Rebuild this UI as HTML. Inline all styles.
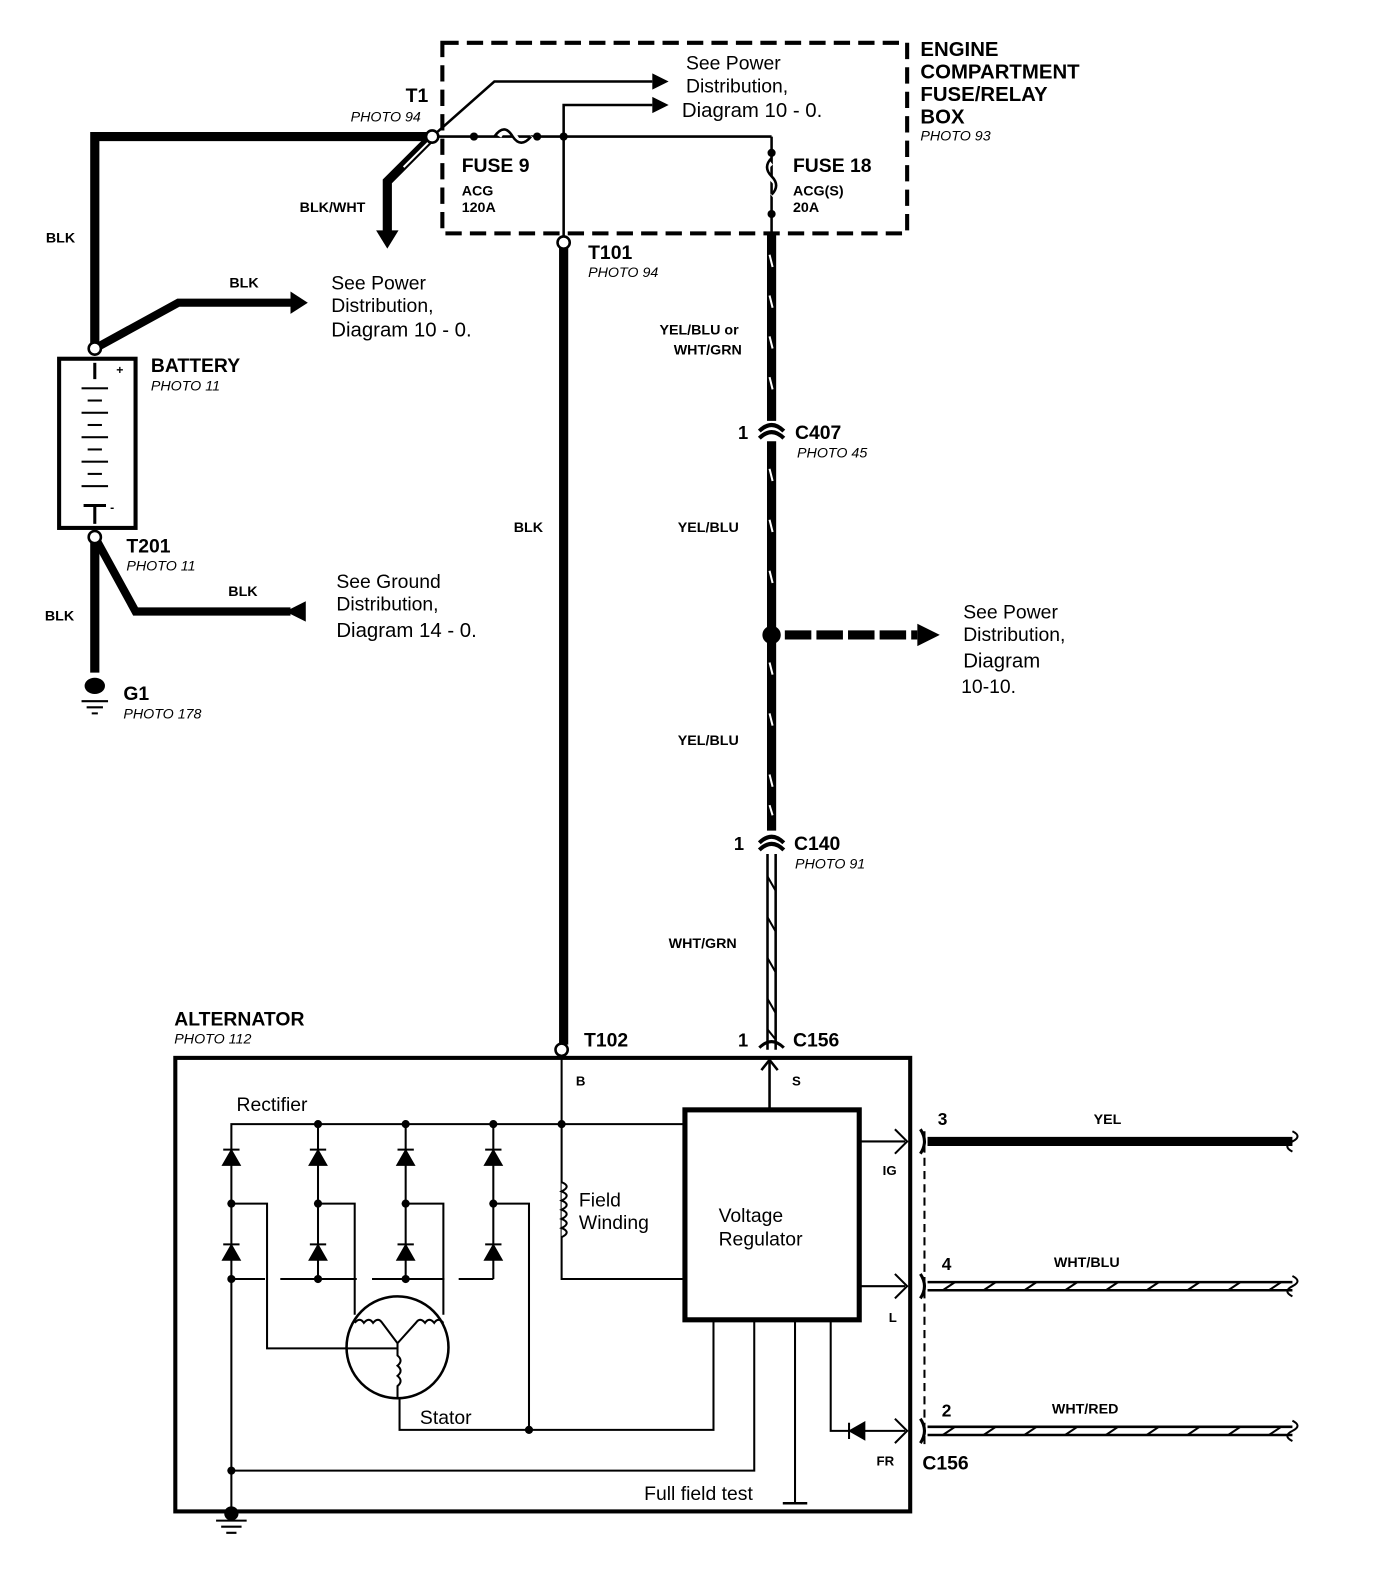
<!DOCTYPE html>
<html><head><style>
html,body{margin:0;padding:0;background:#fff}
svg{display:block}
text{font-family:"Liberation Sans",Arial,sans-serif;fill:#000}
.b{font-weight:bold}
.i{font-style:italic}
</style></head><body>
<svg width="1376" height="1596" viewBox="0 0 1350 1566" preserveAspectRatio="none" xmlns="http://www.w3.org/2000/svg">
<rect width="1350" height="1566" fill="#fff"/>
<g fill="none" stroke="#000">
<rect x="434" y="42" width="456" height="187" stroke-width="4" stroke-dasharray="16,8"/>
<polyline points="424,134 93,134 93,342" stroke-width="9"/>
<polyline points="93,342 175,297 285,297" stroke-width="8"/>
<polyline points="424,134 380,178 380,228" stroke-width="9"/>
<line x1="420" y1="140" x2="396" y2="164" stroke="#fff" stroke-width="2"/>
<line x1="424" y1="134" x2="757" y2="134" stroke-width="2.5"/>
<path d="M490,134 q8,-14 16,0 q8,14 16,0" stroke="#fff" stroke-width="4"/>
<path d="M485,134 q10,-14 18,0 q8,12 18,0" stroke-width="2.5"/>
<polyline points="424,134 485,80 640,80" stroke-width="2.5"/>
<polyline points="553,238 553,103 640,103" stroke-width="2.5"/>
<line x1="757" y1="134" x2="757" y2="229" stroke-width="2.5"/>
<path d="M757,160 q-10,8 0,16 q10,8 0,16" stroke="#fff" stroke-width="4"/>
<path d="M757,155 q-9,9 0,18 q9,9 0,18" stroke-width="2.5"/>
<line x1="553" y1="243" x2="553" y2="1025" stroke-width="9"/>
<line x1="757" y1="229" x2="757" y2="413" stroke-width="9"/>
<line x1="757" y1="433" x2="757" y2="815" stroke-width="9"/>
<line x1="753" y1="838" x2="753" y2="1030" stroke-width="2.5"/>
<line x1="761" y1="838" x2="761" y2="1030" stroke-width="2.5"/>
<path d="M745,423 q12,-12 24,0 M745,430 q12,-12 24,0" stroke-width="4"/>
<path d="M745,827 q12,-12 24,0 M745,834 q12,-12 24,0" stroke-width="4"/>
<path d="M745,1028 q12,-12 24,0" stroke-width="3"/>
<line x1="770" y1="623" x2="900" y2="623" stroke-width="9" stroke-dasharray="26,5"/>
<rect x="58" y="352" width="75" height="166" stroke-width="4"/>
<line x1="93" y1="356" x2="93" y2="372" stroke-width="3"/>
<line x1="93" y1="496" x2="93" y2="514" stroke-width="3"/>
<line x1="82" y1="496" x2="104" y2="496" stroke-width="3"/>
<line x1="93" y1="532" x2="93" y2="660" stroke-width="9"/>
<polyline points="93,527 133,600 285,600" stroke-width="8"/>
<rect x="172" y="1038" width="721" height="445" stroke-width="4"/>
<rect x="672" y="1089" width="171" height="206" stroke-width="5"/>
<line x1="551" y1="1036" x2="551" y2="1103" stroke-width="2"/>
<line x1="755" y1="1040" x2="755" y2="1089" stroke-width="2.5"/>
<polyline points="747,1050 755,1040 763,1050" stroke-width="2.5"/>
<polyline points="227,1255 227,1103 672,1103" stroke-width="2"/>
<line x1="312" y1="1103" x2="312" y2="1255" stroke-width="2"/>
<line x1="398" y1="1103" x2="398" y2="1255" stroke-width="2"/>
<line x1="484" y1="1103" x2="484" y2="1255" stroke-width="2"/>
<path d="M227,1255 H260 M275,1255 H350 M365,1255 H436 M450,1255 H484" stroke-width="2"/>
<polyline points="551,1103 551,1255 672,1255" stroke-width="2"/>
<path d="M551,1160 q10,4 0,9 q10,4 0,9 q10,4 0,9 q10,4 0,9 q10,4 0,9 q10,4 0,9" stroke-width="2" fill="#fff"/>
<polyline points="227,1181 262,1181 262,1323 390,1323" stroke-width="2"/>
<polyline points="312,1181 348,1181 348,1290" stroke-width="2"/>
<polyline points="398,1181 435,1181 435,1290" stroke-width="2"/>
<polyline points="484,1181 519,1181 519,1403" stroke-width="2"/>
<circle cx="390" cy="1322" r="50" stroke-width="2.5"/>
<path d="M348,1298 q5,-6 9,0 q5,-6 9,0 q5,-6 9,0 L390,1318 M435,1298 q-5,-6 -9,0 q-5,-6 -9,0 q-5,-6 -9,0 L390,1318 M390,1318 V1330 q6,5 0,10 q6,5 0,10 q6,5 0,10 V1372" stroke-width="2"/>
<polyline points="392,1372 392,1403 700,1403 700,1295" stroke-width="2"/>
<line x1="227" y1="1255" x2="227" y2="1483" stroke-width="2"/>
<polyline points="227,1443 740,1443 740,1295" stroke-width="2"/>
<line x1="780" y1="1295" x2="780" y2="1475" stroke-width="2"/>
<line x1="768" y1="1475" x2="792" y2="1475" stroke-width="2.5"/>
<polyline points="815,1295 815,1404 888,1404" stroke-width="2"/>
<line x1="843" y1="1120" x2="888" y2="1120" stroke-width="2"/>
<line x1="843" y1="1262" x2="888" y2="1262" stroke-width="2"/>
<path d="M878,1108 L890,1120 L878,1132 M878,1250 L890,1262 L878,1274 M878,1392 L890,1404 L878,1416" stroke-width="2"/>
<line x1="907" y1="1110" x2="907" y2="1420" stroke-width="2" stroke-dasharray="8,5"/>
<path d="M903,1108 q8,12 0,24 M903,1250 q8,12 0,24 M903,1392 q8,12 0,24" stroke-width="3"/>
<line x1="910" y1="1120" x2="1268" y2="1120" stroke-width="9"/>
<line x1="910" y1="1258" x2="1268" y2="1258" stroke-width="2.5"/>
<line x1="910" y1="1266" x2="1268" y2="1266" stroke-width="2.5"/>
<line x1="910" y1="1400" x2="1268" y2="1400" stroke-width="2.5"/>
<line x1="910" y1="1408" x2="1268" y2="1408" stroke-width="2.5"/>
<path d="M1268,1110 q10,5 0,10 q-10,5 0,10 M1268,1252 q10,5 0,10 q-10,5 0,10 M1268,1394 q10,5 0,10 q-10,5 0,10" stroke-width="2"/>
<path d="M80,688 H106 M85,694 H101 M90,700 H96" stroke-width="2"/>
<path d="M212,1492 H242 M217,1498 H237 M222,1504 H232" stroke-width="2"/>
</g>
<g stroke="#fff" stroke-width="2">
<path d="M755,250 l3,12 M755,290 l3,12 M755,330 l3,12 M755,370 l3,12 M755,460 l3,12 M755,510 l3,12 M755,560 l3,12 M755,650 l3,12 M755,700 l3,12 M755,760 l3,12 M755,790 l3,10"/>
</g>
<g stroke="#000" stroke-width="2">
<path d="M753,860 l8,14 M753,900 l8,14 M753,940 l8,14 M753,980 l8,14 M753,1010 l8,10"/>
<path d="M925,1266 l12,-8 M965,1266 l12,-8 M1005,1266 l12,-8 M1045,1266 l12,-8 M1085,1266 l12,-8 M1125,1266 l12,-8 M1165,1266 l12,-8 M1205,1266 l12,-8 M1245,1266 l12,-8"/>
<path d="M925,1408 l12,-8 M965,1408 l12,-8 M1005,1408 l12,-8 M1045,1408 l12,-8 M1085,1408 l12,-8 M1125,1408 l12,-8 M1165,1408 l12,-8 M1205,1408 l12,-8 M1245,1408 l12,-8"/>
</g>
<g fill="#000">
<polygon points="285,286 302,297 285,308"/>
<polygon points="369,226 391,226 380,244"/>
<polygon points="640,72 656,80 640,88"/>
<polygon points="640,95 656,103 640,111"/>
<polygon points="900,612 922,623 900,634"/>
<polygon points="300,590 280,600 300,610"/>
<circle cx="757" cy="623" r="9"/>
<circle cx="465" cy="134" r="4"/><circle cx="527" cy="134" r="4"/><circle cx="553" cy="134" r="4"/>
<circle cx="757" cy="150" r="4"/><circle cx="757" cy="210" r="4"/>
<ellipse cx="93" cy="673" rx="10" ry="8"/>
<circle cx="227" cy="1485" r="7"/>
<circle cx="312" cy="1103" r="4"/><circle cx="398" cy="1103" r="4"/><circle cx="484" cy="1103" r="4"/><circle cx="551" cy="1103" r="4"/>
<circle cx="227" cy="1181" r="4"/><circle cx="312" cy="1181" r="4"/><circle cx="398" cy="1181" r="4"/><circle cx="484" cy="1181" r="4"/>
<circle cx="227" cy="1255" r="4"/><circle cx="312" cy="1255" r="4"/><circle cx="398" cy="1255" r="4"/>
<circle cx="519" cy="1403" r="4"/><circle cx="227" cy="1443" r="4"/>
<path d="M219,1143 L235,1143 L227,1129 Z M219,1128 H235" stroke="#000" stroke-width="2"/>
<path d="M219,1236 L235,1236 L227,1222 Z M219,1221 H235" stroke="#000" stroke-width="2"/>
<path d="M304,1143 L320,1143 L312,1129 Z M304,1128 H320" stroke="#000" stroke-width="2"/>
<path d="M304,1236 L320,1236 L312,1222 Z M304,1221 H320" stroke="#000" stroke-width="2"/>
<path d="M390,1143 L406,1143 L398,1129 Z M390,1128 H406" stroke="#000" stroke-width="2"/>
<path d="M390,1236 L406,1236 L398,1222 Z M390,1221 H406" stroke="#000" stroke-width="2"/>
<path d="M476,1143 L492,1143 L484,1129 Z M476,1128 H492" stroke="#000" stroke-width="2"/>
<path d="M476,1236 L492,1236 L484,1222 Z M476,1221 H492" stroke="#000" stroke-width="2"/>
<path d="M848,1396 L848,1412 L834,1404 Z M833,1396 V1412" stroke="#000" stroke-width="2"/>
<rect x="80" y="380" width="26" height="2"/><rect x="86" y="392" width="14" height="2"/>
<rect x="80" y="404" width="26" height="2"/><rect x="86" y="416" width="14" height="2"/>
<rect x="80" y="428" width="26" height="2"/><rect x="86" y="440" width="14" height="2"/>
<rect x="80" y="452" width="26" height="2"/><rect x="86" y="464" width="14" height="2"/>
<rect x="80" y="476" width="26" height="2"/>
</g>
<g fill="#fff" stroke="#000" stroke-width="2.5">
<circle cx="424" cy="134" r="6"/>
<circle cx="93" cy="342" r="6"/>
<circle cx="93" cy="527" r="6"/>
<circle cx="553" cy="238" r="6"/>
<circle cx="551" cy="1030" r="6"/>
</g>
<g>
<text x="903" y="55" font-size="20" class="b">ENGINE</text>
<text x="903" y="77" font-size="20" class="b">COMPARTMENT</text>
<text x="903" y="99" font-size="20" class="b">FUSE/RELAY</text>
<text x="903" y="121" font-size="20" class="b">BOX</text>
<text x="903" y="138" font-size="14" class="i">PHOTO 93</text>
<text x="673" y="68" font-size="19">See Power</text>
<text x="673" y="91" font-size="19">Distribution,</text>
<text x="669" y="115" font-size="20">Diagram 10 - 0.</text>
<text x="398" y="100" font-size="19" class="b">T1</text>
<text x="344" y="119" font-size="14" class="i">PHOTO 94</text>
<text x="453" y="169" font-size="19" class="b">FUSE 9</text>
<text x="453" y="192" font-size="14" class="b">ACG</text>
<text x="453" y="208" font-size="14" class="b">120A</text>
<text x="778" y="169" font-size="19" class="b">FUSE 18</text>
<text x="778" y="192" font-size="14" class="b">ACG(S)</text>
<text x="778" y="208" font-size="14" class="b">20A</text>
<text x="294" y="208" font-size="14" class="b">BLK/WHT</text>
<text x="45" y="238" font-size="14" class="b">BLK</text>
<text x="225" y="282" font-size="14" class="b">BLK</text>
<text x="325" y="284" font-size="19">See Power</text>
<text x="325" y="306" font-size="19">Distribution,</text>
<text x="325" y="330" font-size="20">Diagram 10 - 0.</text>
<text x="577" y="254" font-size="19" class="b">T101</text>
<text x="577" y="272" font-size="14" class="i">PHOTO 94</text>
<text x="647" y="328" font-size="14" class="b">YEL/BLU or</text>
<text x="661" y="348" font-size="14" class="b">WHT/GRN</text>
<text x="148" y="365" font-size="19" class="b">BATTERY</text>
<text x="148" y="383" font-size="14" class="i">PHOTO 11</text>
<text x="724" y="431" font-size="18" class="b">1</text>
<text x="780" y="431" font-size="19" class="b">C407</text>
<text x="782" y="449" font-size="14" class="i">PHOTO 45</text>
<text x="504" y="522" font-size="14" class="b">BLK</text>
<text x="665" y="522" font-size="14" class="b">YEL/BLU</text>
<text x="124" y="542" font-size="19" class="b">T201</text>
<text x="124" y="560" font-size="14" class="i">PHOTO 11</text>
<text x="224" y="585" font-size="14" class="b">BLK</text>
<text x="330" y="577" font-size="19">See Ground</text>
<text x="330" y="599" font-size="19">Distribution,</text>
<text x="330" y="625" font-size="20">Diagram 14 - 0.</text>
<text x="44" y="609" font-size="14" class="b">BLK</text>
<text x="945" y="607" font-size="19">See Power</text>
<text x="945" y="629" font-size="19">Distribution,</text>
<text x="945" y="655" font-size="20">Diagram</text>
<text x="943" y="680" font-size="19">10-10.</text>
<text x="121" y="687" font-size="19" class="b">G1</text>
<text x="121" y="705" font-size="14" class="i">PHOTO 178</text>
<text x="665" y="731" font-size="14" class="b">YEL/BLU</text>
<text x="720" y="834" font-size="18" class="b">1</text>
<text x="779" y="834" font-size="19" class="b">C140</text>
<text x="780" y="852" font-size="14" class="i">PHOTO 91</text>
<text x="656" y="930" font-size="14" class="b">WHT/GRN</text>
<text x="171" y="1006" font-size="19" class="b">ALTERNATOR</text>
<text x="171" y="1024" font-size="14" class="i">PHOTO 112</text>
<text x="573" y="1027" font-size="19" class="b">T102</text>
<text x="724" y="1027" font-size="18" class="b">1</text>
<text x="778" y="1027" font-size="19" class="b">C156</text>
<text x="565" y="1065" font-size="13" class="b">B</text>
<text x="777" y="1065" font-size="13" class="b">S</text>
<text x="232" y="1090" font-size="19">Rectifier</text>
<text x="568" y="1184" font-size="19">Field</text>
<text x="568" y="1206" font-size="19">Winding</text>
<text x="705" y="1199" font-size="19">Voltage</text>
<text x="705" y="1222" font-size="19">Regulator</text>
<text x="412" y="1397" font-size="19">Stator</text>
<text x="632" y="1472" font-size="19">Full field test</text>
<text x="866" y="1153" font-size="13" class="b">IG</text>
<text x="872" y="1297" font-size="13" class="b">L</text>
<text x="860" y="1438" font-size="13" class="b">FR</text>
<text x="920" y="1104" font-size="17" class="b">3</text>
<text x="1073" y="1103" font-size="14" class="b">YEL</text>
<text x="924" y="1246" font-size="17" class="b">4</text>
<text x="1034" y="1243" font-size="14" class="b">WHT/BLU</text>
<text x="924" y="1390" font-size="17" class="b">2</text>
<text x="1032" y="1387" font-size="14" class="b">WHT/RED</text>
<text x="905" y="1442" font-size="19" class="b">C156</text>
<text x="114" y="367" font-size="12" class="b">+</text>
<text x="108" y="502" font-size="12" class="b">-</text>
</g>
</svg>
</body></html>
